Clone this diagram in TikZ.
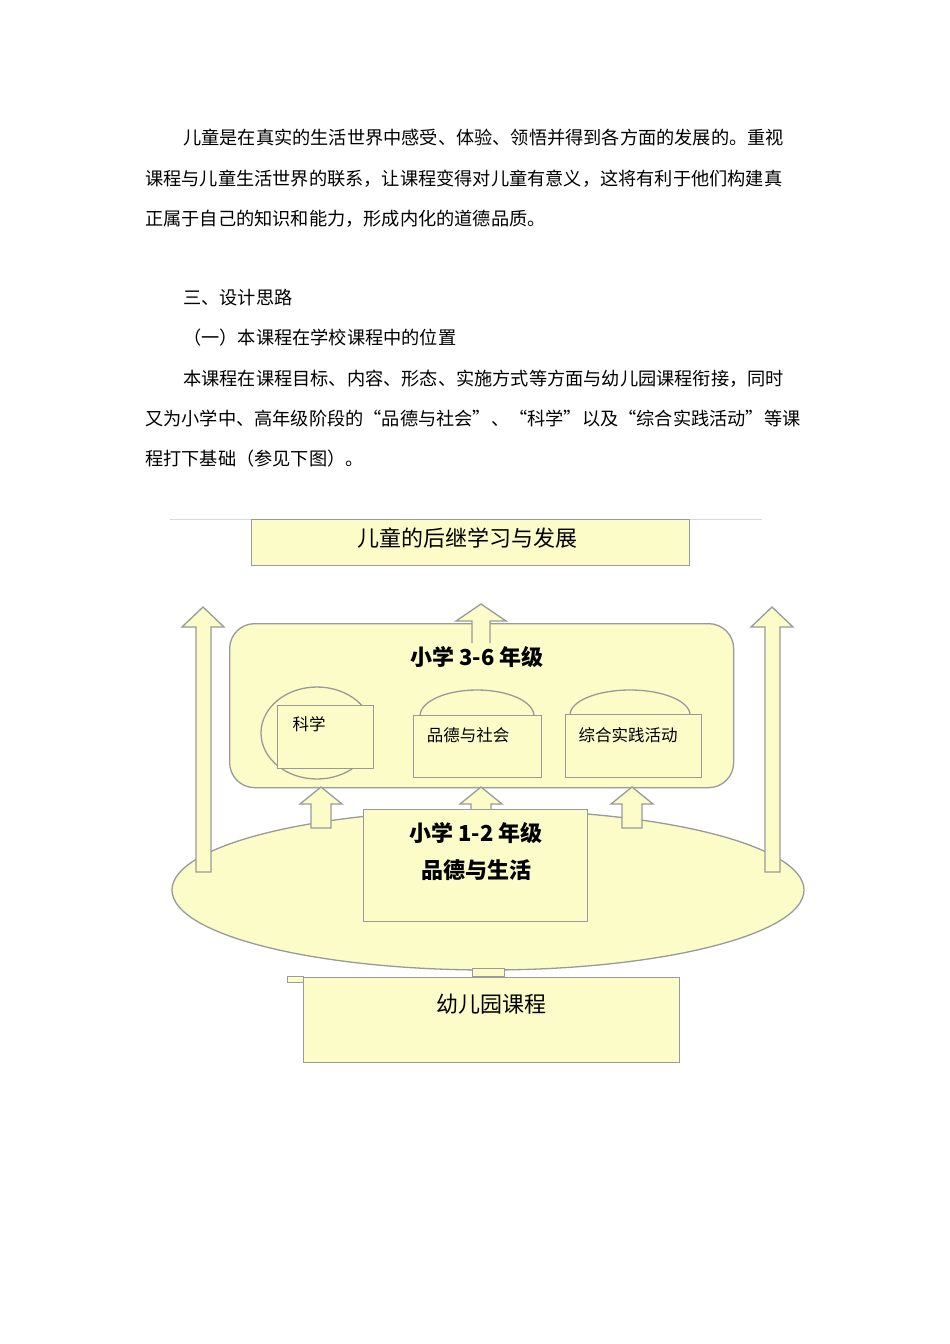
\documentclass[tikz,border=0pt]{standalone}
\usepackage{fontspec}
\usetikzlibrary{shapes.geometric}
\newfontfamily\cjk{Noto Sans CJK SC}
\definecolor{fillc}{HTML}{FCFCC8}
\definecolor{edgec}{HTML}{9A9A9A}
\tikzset{
 para/.style={anchor=west,inner sep=0pt,font=\cjk\fontsize{18.2}{20}\selectfont},
 shp/.style={draw=edgec,fill=fillc,line width=1.3pt},
 boxn/.style={shp,inner sep=0pt,anchor=north west},
 lbl/.style={inner sep=0pt,font=\cjk\fontsize{16.5}{18}\selectfont},
 big/.style={inner sep=0pt,font=\cjk\fontsize{22}{24}\selectfont},
 bold/.style={inner sep=0pt,font=\cjk\bfseries\fontsize{22}{24}\selectfont},
}
\begin{document}
\begin{tikzpicture}[x=1pt,y=-1pt]
\useasboundingbox[fill=white] (0,0) rectangle (950,1344);
% paragraphs
\node[para] (p1) at (183,138) {儿童是在真实的生活世界中感受、体验、领悟并得到各方面的发展的。重视};
\node[para] (p2) at (145,179) {课程与儿童生活世界的联系，让课程变得对儿童有意义，这将有利于他们构建真};
\node[para] (p3) at (145,219) {正属于自己的知识和能力，形成内化的道德品质。};
\node[para] (p4) at (183,298) {三、设计思路};
\node[para] (p5) at (183,338) {（一）本课程在学校课程中的位置};
\node[para] (p6) at (183,379) {本课程在课程目标、内容、形态、实施方式等方面与幼儿园课程衔接，同时};
\node[para] (p7) at (145,419) {又为小学中、高年级阶段的“品德与社会”、“科学”以及“综合实践活动”等课};
\node[para] (p8) at (145,459) {程打下基础（参见下图）。};
% top
\draw[gray!30,line width=1pt] (170,519) -- (762,519);
\node[boxn,minimum width=438,minimum height=46] (top) at (251,519) {};
\node[big] (topt) at (467,538) {儿童的后继学习与发展};
% big ellipse
\node[shp,ellipse,minimum width=632,minimum height=160,inner sep=0pt] (ell) at (488,890) {};
% side arrows
\draw[shp] (196,872) -- (196,627) -- (182,627) -- (203,607) -- (224,627) -- (211,627) -- (211,872) -- cycle;
\draw[shp] (765,872) -- (765,627) -- (751,627) -- (772,607) -- (793,627) -- (780,627) -- (780,872) -- cycle;
% rounded box
\node[boxn,rounded corners=25,minimum width=504,minimum height=164] (mid) at (229,623) {};
\draw[shp] (472,643) -- (472,621) -- (456,621) -- (481,604) -- (506,621) -- (490,621) -- (490,643);
\node[bold] (t36) at (477,657) {小学 3-6 年级};
% science
\node[shp,ellipse,minimum width=112,minimum height=92,inner sep=0pt] (sce) at (317,733) {};
\node[boxn,minimum width=96,minimum height=63] (scb) at (277,705) {};
\node[lbl] (sct) at (309,724) {科学};
% moral
\draw[shp] (420,716) arc[start angle=180,end angle=360,x radius=57,y radius=26];
\node[boxn,minimum width=128,minimum height=62] (mob) at (413,715) {};
\node[lbl] (mot) at (468,735) {品德与社会};
% practice
\draw[shp] (570,715) arc[start angle=180,end angle=360,x radius=60,y radius=25];
\node[boxn,minimum width=136,minimum height=63] (prb) at (565,714) {};
\node[lbl] (prt) at (628,735) {综合实践活动};
% small arrows
\foreach \cx in {321,481,632}{
 \draw[shp] (\cx-10,828) -- (\cx-10,804) -- (\cx-21,804) -- (\cx,787) -- (\cx+21,804) -- (\cx+10,804) -- (\cx+10,828) -- cycle;
}
% grade 1-2
\node[boxn,minimum width=224,minimum height=112] (g12) at (363,809) {};
\node[bold] (g12a) at (476,833) {小学 1-2 年级};
\node[bold] (g12b) at (476,870) {品德与生活};
% kindergarten
\draw[shp,line width=1pt] (287,976) rectangle (303,982);
\draw[shp,line width=1pt] (472,968) rectangle (504,976);
\node[boxn,minimum width=376,minimum height=85] (kg) at (303,977) {};
\node[big] (kgt) at (491,1004) {幼儿园课程};
\end{tikzpicture}
\end{document}
